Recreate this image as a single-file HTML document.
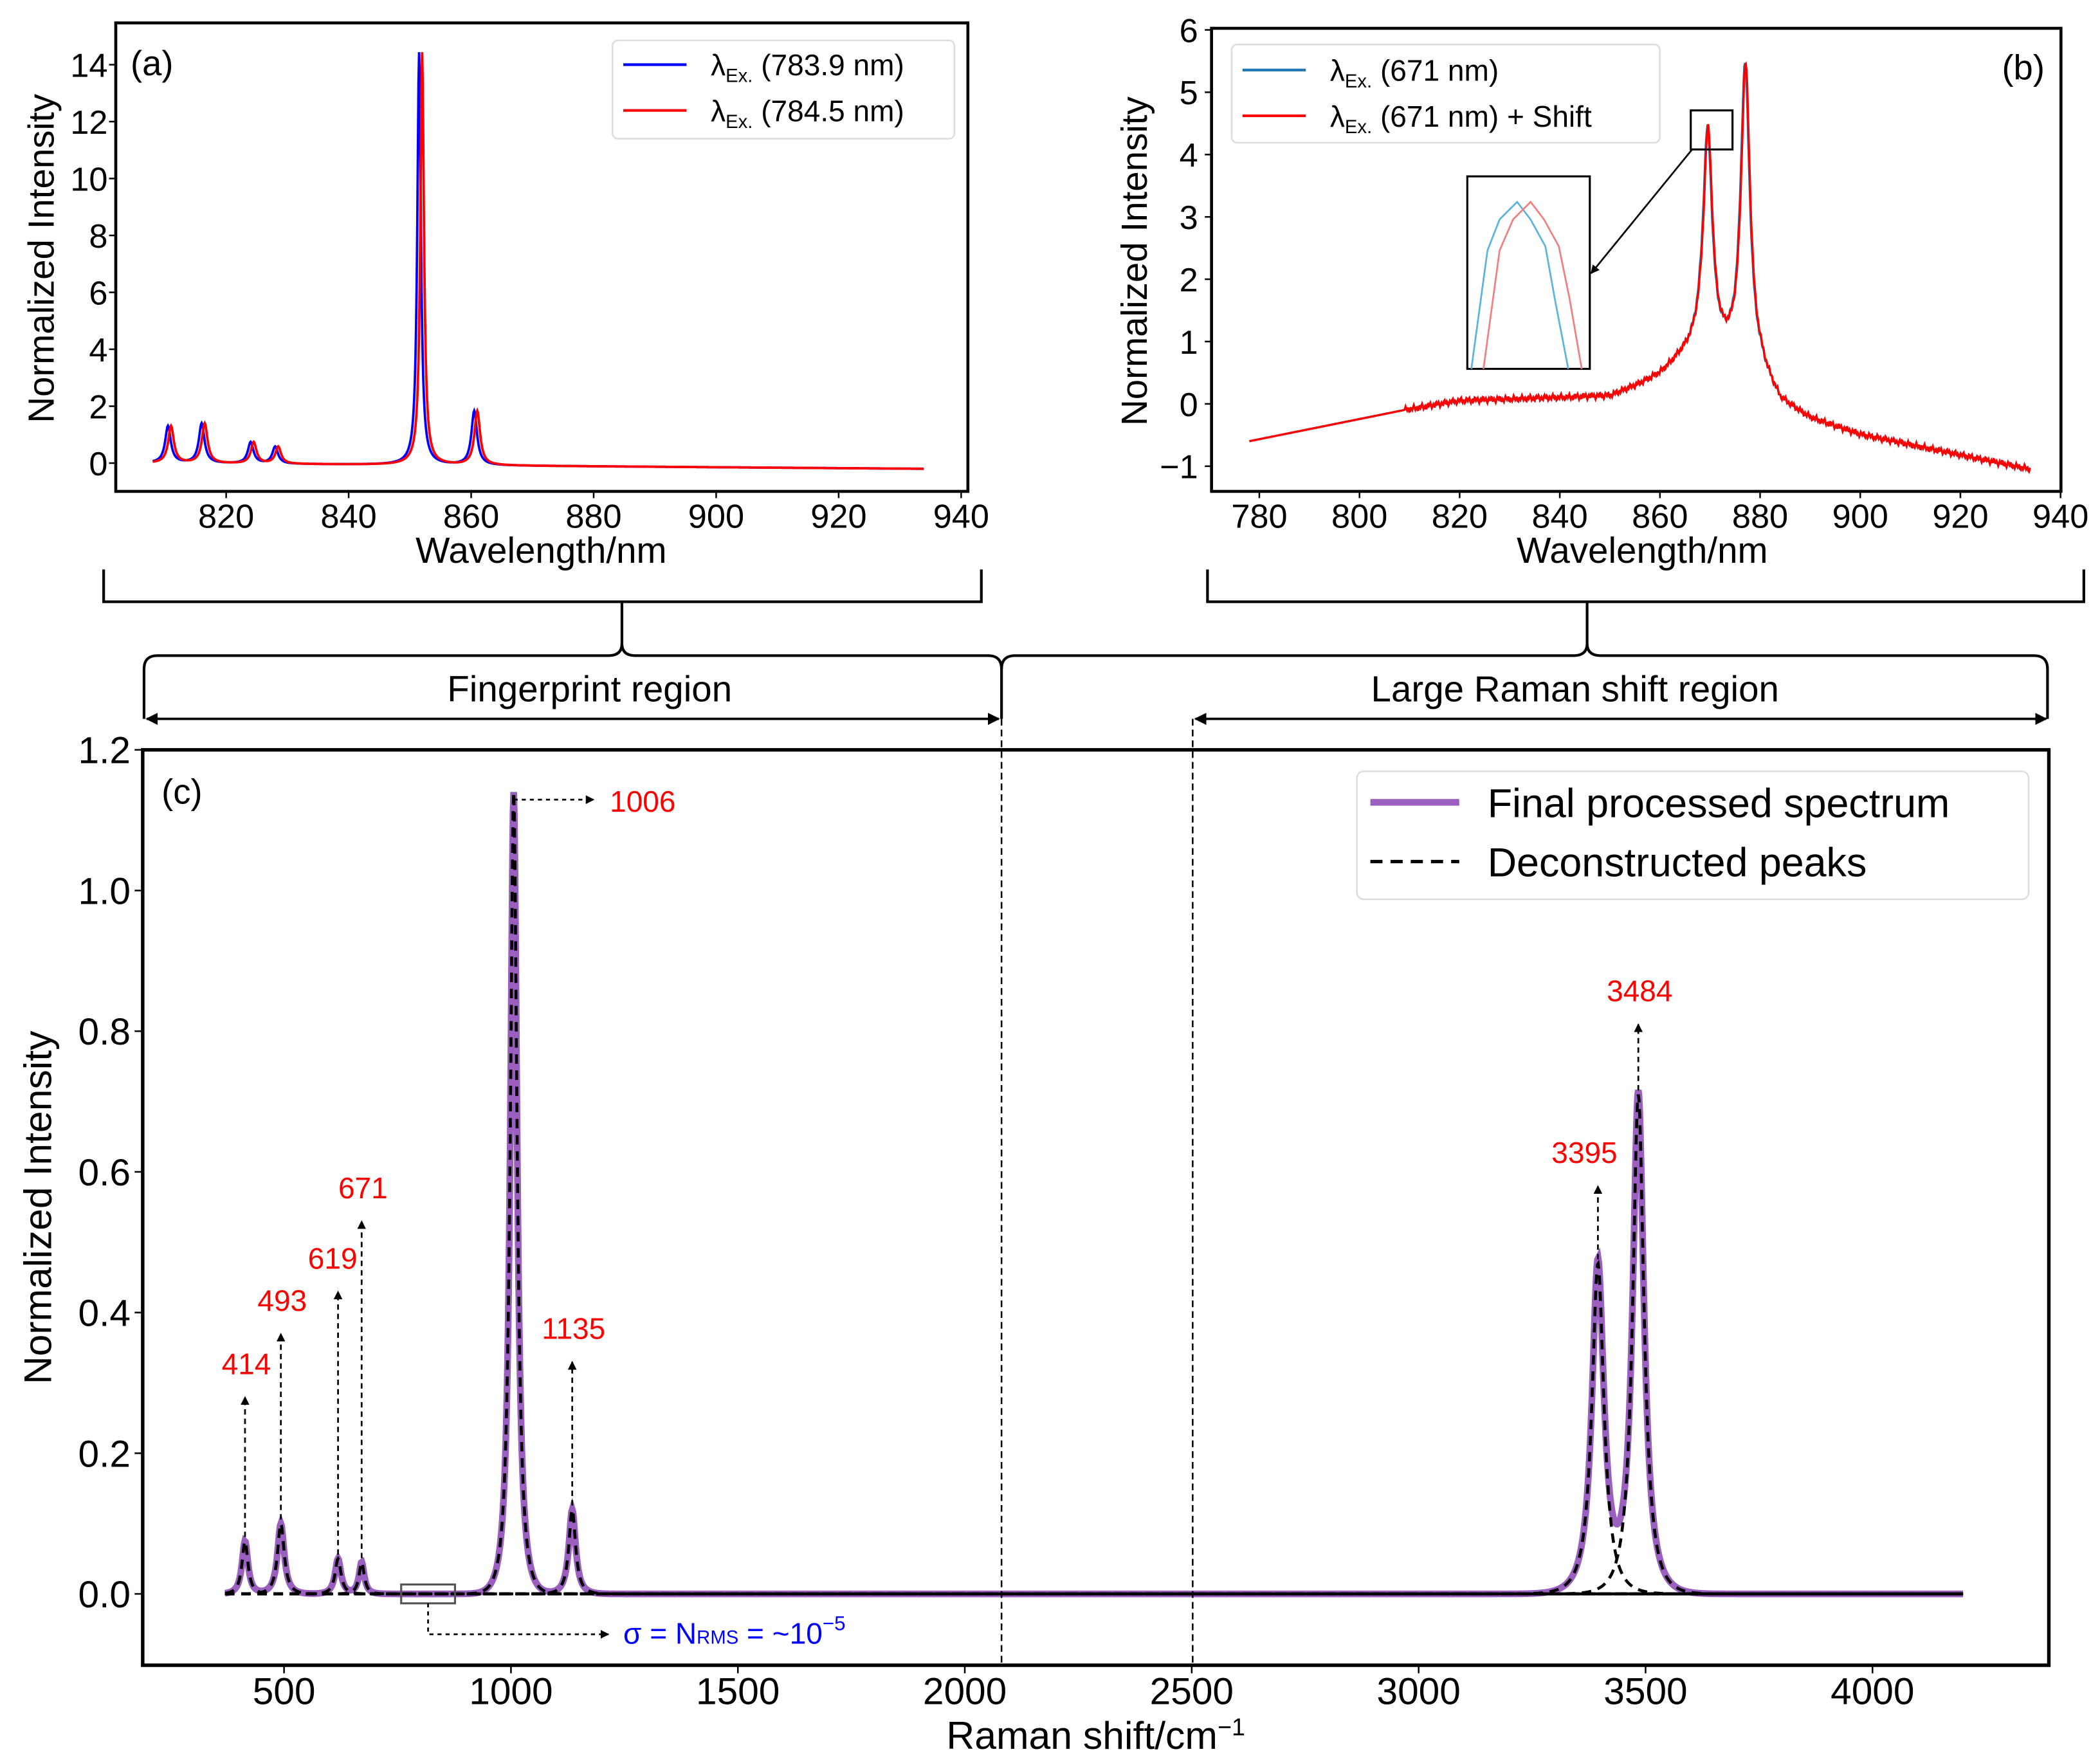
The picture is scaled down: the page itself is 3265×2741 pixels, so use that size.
<!DOCTYPE html>
<html><head><meta charset="utf-8"><style>
html,body{margin:0;padding:0;background:#fff}
svg{display:block}
text{font-family:"Liberation Sans",sans-serif;fill:#000}
</style></head><body>
<svg id="fig" width="3265" height="2741" viewBox="0 0 1560 1309.6" xmlns="http://www.w3.org/2000/svg">
<defs>
<marker id="ah" viewBox="0 0 10 10" refX="9" refY="5" markerWidth="5" markerHeight="5" orient="auto-start-reverse"><path d="M0,0L10,5L0,10z" fill="#000"/></marker>
</defs>
<g id="pa"></g>
<g id="pb"></g>
<g id="pc"></g>
<g id="br">
<path d="M77,423V447H729V423M462,447V478Q462,487 452,487H117Q107,487 107,497V534" fill="none" stroke="#000" stroke-width="2"/>
<path d="M462,478Q462,487 472,487H734Q744,487 744,497V534" fill="none" stroke="#000" stroke-width="2"/>
<path d="M897,423V447H1548V423M1179,447V478Q1179,487 1169,487H754Q744,487 744,497" fill="none" stroke="#000" stroke-width="2"/>
<path d="M1179,478Q1179,487 1189,487H1511Q1521,487 1521,497V534" fill="none" stroke="#000" stroke-width="2"/>
<line x1="109" y1="534" x2="742" y2="534" stroke="#000" stroke-width="1.8" marker-start="url(#ah)" marker-end="url(#ah)"/>
<line x1="888" y1="534" x2="1520" y2="534" stroke="#000" stroke-width="1.8" marker-start="url(#ah)" marker-end="url(#ah)"/>
<text x="438" y="521" font-size="27" text-anchor="middle">Fingerprint region</text>
<text x="1170" y="521" font-size="27" text-anchor="middle">Large Raman shift region</text>
<line x1="744" y1="534" x2="744" y2="1237" stroke="#000" stroke-width="1.2" stroke-dasharray="5,3"/>
<line x1="886" y1="534" x2="886" y2="1237" stroke="#000" stroke-width="1.2" stroke-dasharray="5,3"/>
</g>
</svg>
<script>
// ---------- Panel (a) data ----------
const aPeakPos = [810.5, 816, 824, 828, 851.5, 860.5];
const aPeakHeight = [1.3, 1.4, 0.75, 0.6, 14.5, 1.9];
const aShift = 0.5;
const aXTicks = [820, 840, 860, 880, 900, 920, 940];
const aYTicks = [0, 2, 4, 6, 8, 10, 12, 14];
// ---------- Panel (b) data ----------
const bPeakPos = [869.5, 877];
const bPeakHeight = [3.5, 4.8];
const bBaseX = [778, 809, 820, 850, 856, 860, 864, 868, 880, 884, 890, 900, 934];
const bBaseY = [-0.6, -0.1, 0.05, 0.12, 0.3, 0.45, 0.7, 0.9, 0.5, 0.0, -0.25, -0.5, -1.05];
const bXTicks = [780, 800, 820, 840, 860, 880, 900, 920, 940];
const bYTicks = [-1, 0, 1, 2, 3, 4, 5, 6];
// ---------- Panel (c) data ----------
const cPeakPos = [414, 493, 619, 671, 1006, 1135, 3395, 3484];
const cPeakHeight = [0.075, 0.1, 0.05, 0.045, 1.14, 0.12, 0.47, 0.71];
const cPeakWidth = [8, 9, 8, 7, 9, 9, 16, 15];
const cLabels = ["414", "493", "619", "671", "1006", "1135", "3395", "3484"];
const cLabelVal = [0.28, 0.37, 0.43, 0.53, 1.13, 0.33, 0.58, 0.81];
const cXTicks = [500, 1000, 1500, 2000, 2500, 3000, 3500, 4000];
const cYTicks = [0, 0.2, 0.4, 0.6, 0.8, 1.0, 1.2];

const NS = "http://www.w3.org/2000/svg";
function mk(parent, tag, attrs, txt) {
  const e = document.createElementNS(NS, tag);
  for (const k in attrs) e.setAttribute(k, attrs[k]);
  if (txt !== undefined) e.textContent = txt;
  parent.appendChild(e);
  return e;
}
function lor(x, c, h, w) { const d = (x - c) / w; return h / (1 + d * d); }
function interp(x, xs, ys) {
  for (let i = 0; i < xs.length - 1; i++) if (x <= xs[i + 1]) { const t = (x - xs[i]) / (xs[i + 1] - xs[i]); return ys[i] + t * (ys[i + 1] - ys[i]); }
  return ys[ys.length - 1];
}
function pathFrom(xs, ys, sx, sy) { return xs.map((x, i) => (i ? "L" : "M") + sx(x).toFixed(2) + "," + sy(ys[i]).toFixed(2)).join(""); }

// ===== Panel A =====
(function () {
  const g = document.getElementById("pa");
  const sx = v => 168 + (v - 820) * 4.55, sy = v => 344 - v * 21.14;
  mk(g, "rect", { x: 86, y: 17, width: 633, height: 348, fill: "none", stroke: "#000", "stroke-width": 2.2 });
  aXTicks.forEach(t => {
    const tl = mk(g, "line", { x1: sx(t), x2: sx(t), y1: 365, y2: 370, stroke: "#000", "stroke-width": 1.2 });
    
    
    const tx = mk(g, "text", { x: sx(t), y: 392, "font-size": 25, "text-anchor": "middle" }, t);
    
    
  });
  aYTicks.forEach(t => {
    mk(g, "line", { x1: 81, x2: 86, y1: sy(t), y2: sy(t), stroke: "#000", "stroke-width": 1.2 });
    const tx = mk(g, "text", { x: 80, y: sy(t) + 9, "font-size": 25, "text-anchor": "end" }, t);
    
    
  });
  const xs = []; for (let x = 808; x <= 934; x += 0.1) xs.push(x);
  [["#0000ff", 0], ["#ff0000", aShift]].forEach(([col, sh], k) => {
    const ys = xs.map(x => { let y = -0.2 * (x - 808) / 126; aPeakPos.forEach((c, i) => y += lor(x, c + sh, aPeakHeight[i], c > 850 && c < 853 ? 0.35 : 0.55)); return y; });
    const p = mk(g, "path", { d: pathFrom(xs, ys, sx, sy), fill: "none", stroke: col, "stroke-width": 1.8 });
    
    
  });
  mk(g, "rect", { x: 455, y: 30, width: 254, height: 73, rx: 4, fill: "#fff", stroke: "#ddd", "stroke-width": 1.2 });
  mk(g, "line", { x1: 463, x2: 510, y1: 48, y2: 48, stroke: "#0000ff", "stroke-width": 2 });
  mk(g, "line", { x1: 463, x2: 510, y1: 82, y2: 82, stroke: "#ff0000", "stroke-width": 2 });
  const t1 = mk(g, "text", { x: 528, y: 56, "font-size": 22 }); t1.innerHTML = 'λ<tspan font-size="14" dy="5">Ex.</tspan><tspan dy="-5"> (783.9 nm)</tspan>';
  const t2 = mk(g, "text", { x: 528, y: 90, "font-size": 22 }); t2.innerHTML = 'λ<tspan font-size="14" dy="5">Ex.</tspan><tspan dy="-5"> (784.5 nm)</tspan>';
  mk(g, "text", { x: 97, y: 56, "font-size": 26 }, "(a)");
  mk(g, "text", { x: 402, y: 418, "font-size": 27, "text-anchor": "middle" }, "Wavelength/nm");
  mk(g, "text", { x: 40, y: 192, "font-size": 27, "text-anchor": "middle", transform: "rotate(-90 40 192)" }, "Normalized Intensity");
})();

// ===== Panel B =====
(function () {
  const g = document.getElementById("pb");
  const sx = v => 935.5 + (v - 780) * 3.72, sy = v => 300 - v * 46.3;
  mk(g, "rect", { x: 900, y: 21, width: 631, height: 344, fill: "none", stroke: "#000", "stroke-width": 2.2 });
  bXTicks.forEach(t => {
    mk(g, "line", { x1: sx(t), x2: sx(t), y1: 365, y2: 370, stroke: "#000", "stroke-width": 1.2 });
    const tx = mk(g, "text", { x: sx(t), y: 392, "font-size": 25, "text-anchor": "middle" }, t);
    
    
  });
  bYTicks.forEach(t => {
    mk(g, "line", { x1: 895, x2: 900, y1: sy(t), y2: sy(t), stroke: "#000", "stroke-width": 1.2 });
    const tx = mk(g, "text", { x: 890, y: sy(t) + 9, "font-size": 25, "text-anchor": "end" }, t < 0 ? "−" + (-t) : t);
    
    
  });
  const xs = []; for (let x = 778; x <= 934; x += 0.15) xs.push(x);
  [["#1f77b4", 0], ["#ff0000", 0.1]].forEach(([col, sh], k) => {
    const ys = xs.map((x, j) => { let y = interp(x, bBaseX, bBaseY) + (x > 809 ? 0.03 * Math.sin(j * 1.7) + 0.02 * Math.sin(j * 0.61) : 0); bPeakPos.forEach((c, i) => y += lor(x, c + sh, bPeakHeight[i], 1.1)); return y; });
    const p = mk(g, "path", { d: pathFrom(xs, ys, sx, sy), fill: "none", stroke: col, "stroke-width": 1.6 });
    
    
  });
  mk(g, "rect", { x: 915, y: 33, width: 318, height: 73, rx: 4, fill: "#fff", stroke: "#ddd", "stroke-width": 1.2 });
  mk(g, "line", { x1: 923, x2: 970, y1: 52, y2: 52, stroke: "#1f77b4", "stroke-width": 2 });
  mk(g, "line", { x1: 923, x2: 970, y1: 86, y2: 86, stroke: "#ff0000", "stroke-width": 2 });
  const t1 = mk(g, "text", { x: 988, y: 60, "font-size": 22 }); t1.innerHTML = 'λ<tspan font-size="14" dy="5">Ex.</tspan><tspan dy="-5"> (671 nm)</tspan>';
  const t2 = mk(g, "text", { x: 988, y: 94, "font-size": 22 }); t2.innerHTML = 'λ<tspan font-size="14" dy="5">Ex.</tspan><tspan dy="-5"> (671 nm) + Shift</tspan>';
  mk(g, "text", { x: 1503, y: 59, "font-size": 26, "text-anchor": "middle" }, "(b)");
  mk(g, "rect", { x: 1256, y: 82, width: 31, height: 29, fill: "none", stroke: "#000", "stroke-width": 1.5 });
  mk(g, "line", { x1: 1257, y1: 111, x2: 1182, y2: 203, stroke: "#000", "stroke-width": 1.3, "marker-end": "url(#ah)" });
  mk(g, "rect", { x: 1090, y: 131, width: 91, height: 143, fill: "#fff", stroke: "#000", "stroke-width": 1.5 });
  mk(g, "path", { d: "M1093,274L1105,186L1114,163L1127,150L1137,163L1148,183L1155,222L1165,274", fill: "none", stroke: "#5ab4dc", "stroke-width": 1.3 });
  mk(g, "path", { d: "M1102,274L1114,186L1124,163L1137,150L1147,163L1158,183L1166,222L1175,274", fill: "none", stroke: "#f08080", "stroke-width": 1.3 });
  mk(g, "text", { x: 1220, y: 418, "font-size": 27, "text-anchor": "middle" }, "Wavelength/nm");
  mk(g, "text", { x: 852, y: 194, "font-size": 27, "text-anchor": "middle", transform: "rotate(-90 852 194)" }, "Normalized Intensity");
})();

// ===== Panel C =====
(function () {
  const g = document.getElementById("pc");
  const sx = v => 211 + (v - 500) * (1391 - 211) / 3500, sy = v => 1184 - v * 522.5;
  mk(g, "rect", { x: 106, y: 557, width: 1416, height: 680, fill: "none", stroke: "#000", "stroke-width": 2.6 });
  cXTicks.forEach(t => {
    mk(g, "line", { x1: sx(t), x2: sx(t), y1: 1237, y2: 1243, stroke: "#000", "stroke-width": 1.2 });
    const tx = mk(g, "text", { x: sx(t), y: 1266, "font-size": 28, "text-anchor": "middle" }, t);
    
    
  });
  cYTicks.forEach(t => {
    mk(g, "line", { x1: 100, x2: 106, y1: sy(t), y2: sy(t), stroke: "#000", "stroke-width": 1.2 });
    const tx = mk(g, "text", { x: 97, y: sy(t) + 10, "font-size": 28, "text-anchor": "end" }, t.toFixed(1));
    
    
  });
  const xs = []; for (let x = 370; x <= 4200; x += 1.5) xs.push(x);
  const pk = (x, i) => lor(x, cPeakPos[i], cPeakHeight[i], cPeakWidth[i]) * Math.exp(-Math.pow((x - cPeakPos[i]) / (cPeakWidth[i] * 6), 2));
  const tot = xs.map(x => { let y = 0; cPeakPos.forEach((c, i) => y += pk(x, i)); return y; });
  const sp = mk(g, "path", { d: pathFrom(xs, tot, sx, sy), fill: "none", stroke: "#9b5fc0", "stroke-width": 5 });
  
  
  cPeakPos.forEach((c, i) => {
    const ys = xs.map(x => pk(x, i));
    const p = mk(g, "path", { d: pathFrom(xs, ys, sx, sy), fill: "none", stroke: "#000", "stroke-width": 2.2, "stroke-dasharray": "7,5" });
    
    
  });
  cPeakPos.forEach((c, i) => {
    const lab = cLabels[i];
    if (lab === "1006") {
      mk(g, "line", { x1: sx(c), y1: 594, x2: 441, y2: 594, stroke: "#000", "stroke-width": 1.3, "stroke-dasharray": "3,3", "marker-end": "url(#ah)" });
      const t = mk(g, "text", { x: 453, y: 603, "font-size": 22, style: "fill:#ff0000" }, lab);
      
      
      return;
    }
    const top = sy(cLabelVal[i]);
    mk(g, "line", { x1: sx(c), y1: sy(cPeakHeight[i]) - 3, x2: sx(c), y2: top, stroke: "#000", "stroke-width": 1.3, "stroke-dasharray": "4,3", "marker-end": "url(#ah)" });
    const dx = lab === "3395" ? -10 : (lab === "619" ? -4 : 1);
    const t = mk(g, "text", { x: sx(c) + dx, y: top - 17, "font-size": 22, "text-anchor": "middle", style: "fill:#ff0000" }, lab);
    
    
  });
  mk(g, "rect", { x: 298, y: 1177, width: 40, height: 14, fill: "none", stroke: "#555", "stroke-width": 1.5 });
  mk(g, "path", { d: "M318,1191V1214H452", fill: "none", stroke: "#000", "stroke-width": 1.3, "stroke-dasharray": "3,3", "marker-end": "url(#ah)" });
  const nt = mk(g, "text", { x: 463, y: 1221, "font-size": 22, style: "fill:#0000ff" });
  nt.innerHTML = 'σ = N<tspan font-size="14">RMS</tspan> = ~10<tspan font-size="15" dy="-10">−5</tspan>';
  mk(g, "text", { x: 120, y: 597, "font-size": 26 }, "(c)");
  mk(g, "rect", { x: 1008, y: 573, width: 499, height: 95, rx: 5, fill: "#fff", stroke: "#ddd", "stroke-width": 1.2 });
  mk(g, "line", { x1: 1018, x2: 1084, y1: 596, y2: 596, stroke: "#9b5fc0", "stroke-width": 5 });
  mk(g, "line", { x1: 1018, x2: 1084, y1: 640, y2: 640, stroke: "#000", "stroke-width": 2.5, "stroke-dasharray": "9,6" });
  mk(g, "text", { x: 1105, y: 607, "font-size": 30 }, "Final processed spectrum");
  mk(g, "text", { x: 1105, y: 651, "font-size": 30 }, "Deconstructed peaks");
  const xl = mk(g, "text", { x: 814, y: 1299, "font-size": 29, "text-anchor": "middle" });
  xl.innerHTML = 'Raman shift/cm<tspan font-size="18" dy="-10">−1</tspan>';
  mk(g, "text", { x: 38, y: 897, "font-size": 29, "text-anchor": "middle", transform: "rotate(-90 38 897)" }, "Normalized Intensity");
})();
</script>
</body></html>
